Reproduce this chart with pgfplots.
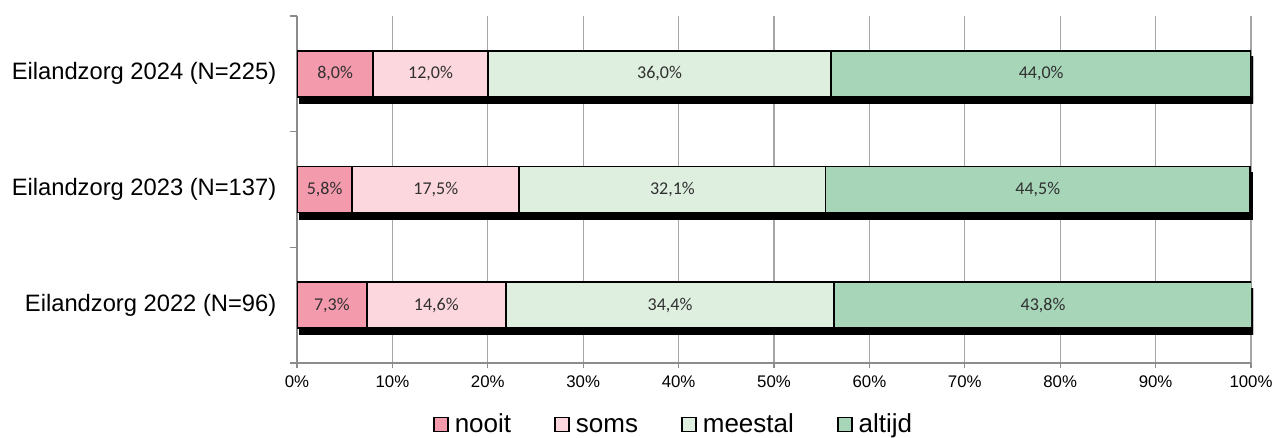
\documentclass[border=0pt]{standalone}
\usepackage{fontspec}
\setmainfont{Liberation Sans}
\newfontfamily\carlito{Carlito}
\usepackage{pgfplots}
\pgfplotsset{compat=1.18}
\usepackage{pgfplotstable}

\definecolor{cnooit}{HTML}{F49AAD}
\definecolor{csoms}{HTML}{FCD7DD}
\definecolor{cmeestal}{HTML}{DEEFE0}
\definecolor{caltijd}{HTML}{A6D5B8}
\definecolor{axisgray}{HTML}{8C8C8C}
\definecolor{gridgray}{HTML}{A6A6A6}
\definecolor{labgray}{HTML}{303030}

\pgfplotstableread{
y nooit soms meestal altijd
0 7.3 14.6 34.4 43.8
1 5.8 17.5 32.1 44.5
2 8.0 12.0 36.0 44.0
}\data

\pgfplotsset{common/.style={
  scale only axis, width=715.5pt, height=260.25pt,
  xmin=0, xmax=100, ymin=-0.5, ymax=2.5,
  /pgf/number format/assume math mode=true}}

\begin{document}
\begin{tikzpicture}
\path[use as bounding box] (-222.75pt,-55.5pt) rectangle (734.25pt,272.25pt);
% grid and axes
\begin{axis}[
  common, at={(0pt,0pt)}, anchor=south west,
  axis x line*=bottom, axis y line*=left,
  axis line style={color=axisgray, line width=0.9pt, -},
  xtick={0,10,...,100},
  xticklabel={\pgfmathprintnumber{\tick}\%},
  xmajorgrids, ymajorgrids=false,
  grid style={color=gridgray, line width=0.9pt},
  ytick={0,1,2},
  yticklabels={Eilandzorg 2022 (N=96), Eilandzorg 2023 (N=137), Eilandzorg 2024 (N=225)},
  minor ytick={-0.5,0.5,1.5,2.5},
  tick align=outside, major tick length=4pt, minor tick length=5.5pt,
  major y tick style={draw=none},
  tick style={color=axisgray, line width=0.9pt},
  x tick label style={font=\fontsize{12.6}{14}\selectfont, text=black, yshift=-2pt},
  y tick label style={font=\fontsize{17.8}{20}\selectfont, text=black, xshift=-8pt},
]
\addplot[draw=none, forget plot] coordinates {(0,0)};
\end{axis}
% shadow
\begin{axis}[
  common, at={(1.6pt,-4.8pt)}, anchor=south west,
  hide axis, xbar, bar width=34.5pt,
]
\addplot[fill=black, draw=black, line width=1.3pt] table[x expr=\thisrow{nooit}+\thisrow{soms}+\thisrow{meestal}+\thisrow{altijd}, y=y] {\data};
\end{axis}
% bars
\begin{axis}[
  common, at={(0pt,0pt)}, anchor=south west,
  hide axis, xbar stacked, bar width=34.5pt,
  every axis plot/.append style={draw=black, line width=1.3pt},
]
\addplot[fill=cnooit] table[x=nooit, y=y] {\data};
\addplot[fill=csoms] table[x=soms, y=y] {\data};
\addplot[fill=cmeestal] table[x=meestal, y=y] {\data};
\addplot[fill=caltijd] table[x=altijd, y=y] {\data};
\end{axis}
% labels and legend
\begin{axis}[
  common, at={(0pt,0pt)}, anchor=south west,
  hide axis,
  nodes near coords={\pgfmathprintnumber[fixed, fixed zerofill, precision=1, use comma]{\pgfplotspointmeta}\%},
  every node near coord/.append style={anchor=center, font=\carlito\fontsize{13.5}{15}\selectfont, text=labgray},
  legend columns=-1,
  legend style={at={(0.397,-0.178)}, anchor=center, draw=none, fill=none,
    font=\fontsize{19.5}{22}\selectfont,
    nodes={text height=14.5pt, text depth=3pt, inner xsep=4.5pt},
    /tikz/every even column/.append style={column sep=28pt},
    inner sep=0pt},
  legend image code/.code={\draw[#1, draw=black, line width=1.1pt] (0pt,-5pt) rectangle (10.5pt,5.5pt);},
]
\addplot[draw=none, mark=none, forget plot, point meta=explicit] table[x expr=\thisrow{nooit}/2, y=y, meta=nooit] {\data};
\addplot[draw=none, mark=none, forget plot, point meta=explicit] table[x expr=\thisrow{nooit}+\thisrow{soms}/2, y=y, meta=soms] {\data};
\addplot[draw=none, mark=none, forget plot, point meta=explicit] table[x expr=\thisrow{nooit}+\thisrow{soms}+\thisrow{meestal}/2, y=y, meta=meestal] {\data};
\addplot[draw=none, mark=none, forget plot, point meta=explicit] table[x expr=\thisrow{nooit}+\thisrow{soms}+\thisrow{meestal}+\thisrow{altijd}/2, y=y, meta=altijd] {\data};
\addlegendimage{fill=cnooit}
\addlegendentry{nooit}
\addlegendimage{fill=csoms}
\addlegendentry{soms}
\addlegendimage{fill=cmeestal}
\addlegendentry{meestal}
\addlegendimage{fill=caltijd}
\addlegendentry{altijd}
\end{axis}
\end{tikzpicture}
\end{document}
